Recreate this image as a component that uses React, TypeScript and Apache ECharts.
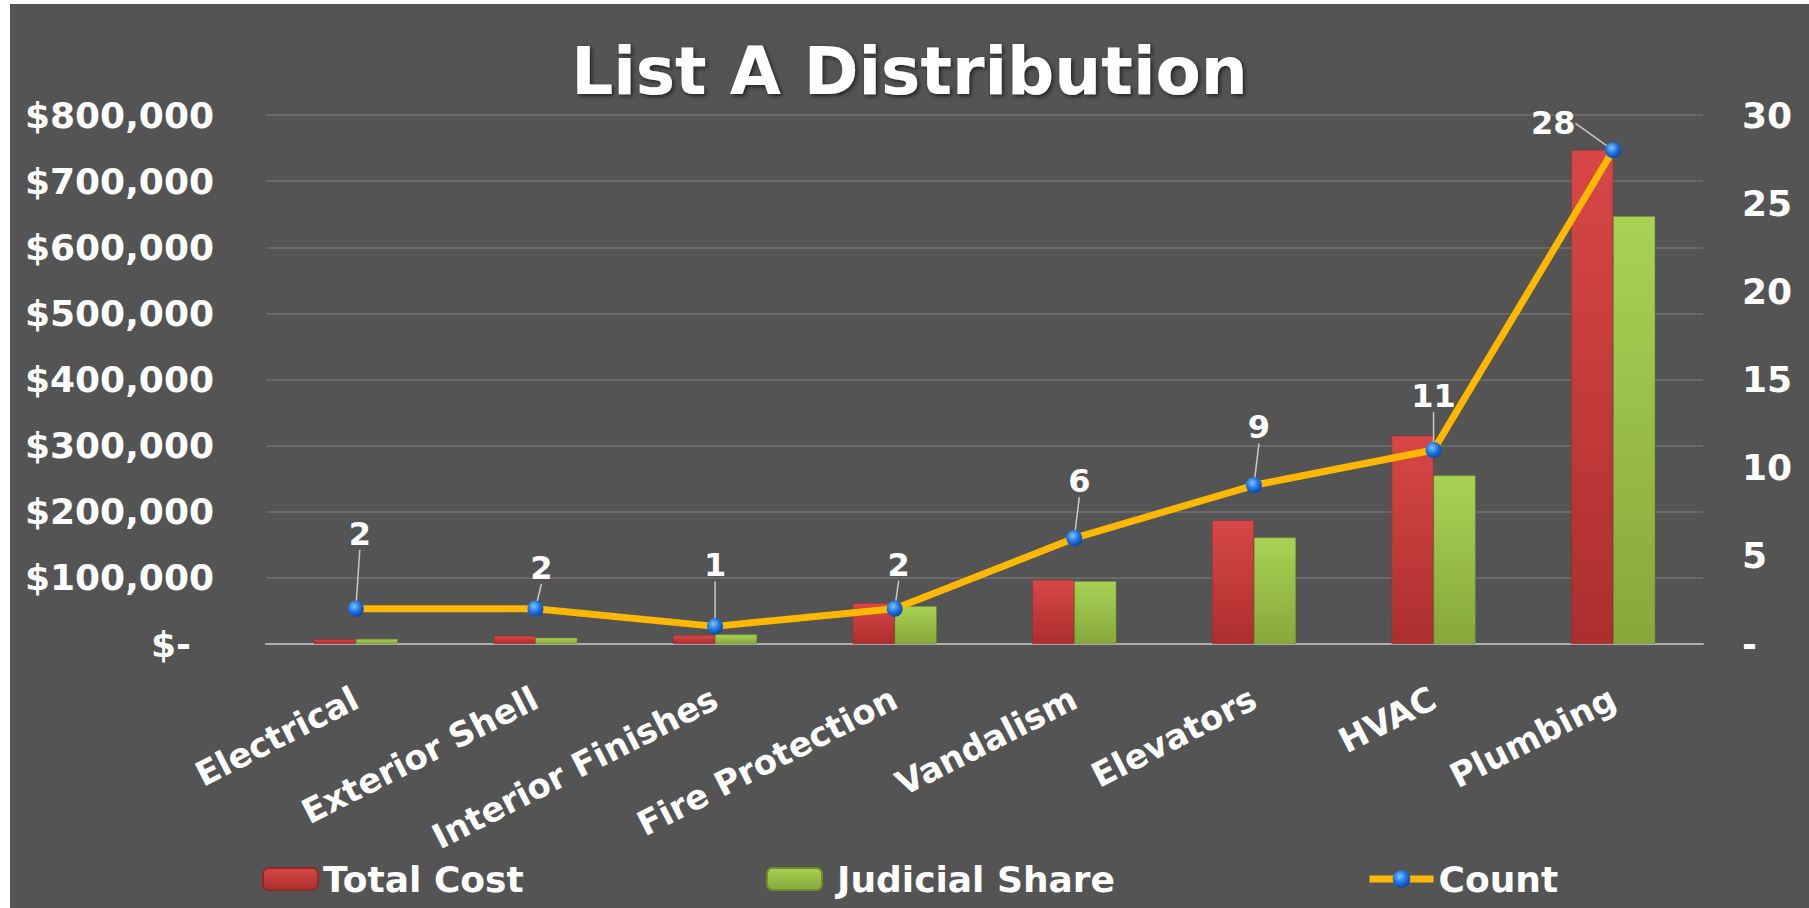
import React, { useEffect, useRef } from "react";
import * as echarts from "echarts";

const categories = [
  "Electrical",
  "Exterior Shell",
  "Interior Finishes",
  "Fire Protection",
  "Vandalism",
  "Elevators",
  "HVAC",
  "Plumbing",
];
const totalCost = [7000, 12500, 13500, 62000, 97000, 187000, 315000, 747000];
const judicialShare = [7500, 9500, 14500, 57000, 95000, 161000, 255000, 647000];
const counts = [2, 2, 1, 2, 6, 9, 11, 28];

// label nudges (style only)
const labelNudge: [number, number][] = [
  [4, -46],
  [6, -12],
  [0, -32],
  [4, -15],
  [5, -28],
  [5, -29],
  [0, -25],
  [-60, 2],
];

const FONT = "'DejaVu Sans', Verdana, sans-serif";

export default function App() {
  const ref = useRef<HTMLDivElement>(null);
  useEffect(() => {
    if (!ref.current) return;
    const chart = echarts.init(ref.current, null, { renderer: "svg" });
    const redGrad = new echarts.graphic.LinearGradient(0, 0, 0, 1, [
      { offset: 0, color: "#D84747" },
      { offset: 1, color: "#AC2E2E" },
    ]);
    const greenGrad = new echarts.graphic.LinearGradient(0, 0, 0, 1, [
      { offset: 0, color: "#A8D254" },
      { offset: 1, color: "#86A83A" },
    ]);
    const dotGrad = new echarts.graphic.RadialGradient(0.4, 0.35, 0.7, [
      { offset: 0, color: "#7FC4FF" },
      { offset: 0.5, color: "#1E78E6" },
      { offset: 1, color: "#0A3E99" },
    ]);
    const legendText = {
      color: "#FFFFFF",
      fontFamily: FONT,
      fontWeight: "bold" as const,
      fontSize: 36,
    };
    chart.setOption({
      animation: false,
      backgroundColor: "#545454",
      title: {
        text: "List A Distribution",
        left: "center",
        top: 29,
        textStyle: {
          color: "#FFFFFF",
          fontFamily: FONT,
          fontWeight: "bold",
          fontSize: 66,
          textShadowColor: "rgba(0,0,0,0.6)",
          textShadowBlur: 4,
          textShadowOffsetX: 2,
          textShadowOffsetY: 2,
        },
      },
      legend: [
        {
          data: ["Total Cost"],
          left: 247,
          top: 852,
          itemWidth: 55,
          itemHeight: 22,
          textStyle: legendText,
        },
        {
          data: ["Judicial Share"],
          left: 751,
          top: 852,
          itemWidth: 55,
          itemHeight: 22,
          textStyle: { ...legendText, padding: [0, 0, 0, 10] },
        },
        {
          data: ["Count"],
          left: 1351,
          top: 852,
          itemWidth: 64,
          itemHeight: 22,
          lineStyle: { width: 7, color: "#FFB800" },
          textStyle: legendText,
        },
      ],
      grid: { left: 256, right: 106, top: 111, bottom: 264 },
      xAxis: {
        type: "category",
        data: categories,
        axisLine: { lineStyle: { color: "#B0B0B0", width: 2 } },
        axisTick: { show: false },
        axisLabel: {
          interval: 0,
          rotate: 27,
          margin: 52,
          color: "#FFFFFF",
          fontFamily: FONT,
          fontWeight: "bold",
          fontSize: 34,
        },
      },
      yAxis: [
        {
          type: "value",
          min: 0,
          max: 800000,
          interval: 100000,
          axisLine: { show: false },
          axisTick: { show: false },
          splitLine: { lineStyle: { color: "#707070", width: 1.5 } },
          axisLabel: {
            margin: 52,
            color: "#FFFFFF",
            fontFamily: FONT,
            fontWeight: "bold",
            fontSize: 36,
            formatter: (v: number) =>
              v === 0 ? "{z|$-}" : "$" + v.toLocaleString("en-US"),
            rich: {
              z: {
                color: "#FFFFFF",
                fontFamily: FONT,
                fontWeight: "bold",
                fontSize: 36,
                padding: [0, 23, 0, 0],
              },
            },
          },
        },
        {
          type: "value",
          min: 0,
          max: 30,
          interval: 5,
          axisLine: { show: false },
          axisTick: { show: false },
          splitLine: { show: false },
          axisLabel: {
            margin: 39,
            color: "#FFFFFF",
            fontFamily: FONT,
            fontWeight: "bold",
            fontSize: 36,
            formatter: (v: number) => (v === 0 ? "-" : String(v)),
          },
        },
      ],
      series: [
        {
          name: "Total Cost",
          type: "bar",
          data: totalCost,
          barWidth: 42,
          barGap: "0%",
          itemStyle: { color: redGrad, borderColor: "#8E2A2A", borderWidth: 0.5 },
        },
        {
          name: "Judicial Share",
          type: "bar",
          data: judicialShare,
          barWidth: 42,
          barGap: "0%",
          itemStyle: { color: greenGrad, borderColor: "#6E8C2E", borderWidth: 0.5 },
        },
        {
          name: "Count",
          type: "line",
          yAxisIndex: 1,
          data: counts,
          symbol: "circle",
          symbolSize: 16,
          lineStyle: { color: "#FFB800", width: 7 },
          itemStyle: { color: dotGrad, borderWidth: 0 },
          label: {
            show: true,
            position: "top",
            color: "#FFFFFF",
            fontFamily: FONT,
            fontWeight: "bold",
            fontSize: 32,
          },
          labelLine: {
            show: true,
            lineStyle: { color: "#C8C8C8", width: 1.5 },
          },
          labelLayout: (p: any) => ({
            dx: labelNudge[p.dataIndex][0],
            dy: labelNudge[p.dataIndex][1],
          }),
          z: 5,
        },
      ],
    });
    return () => chart.dispose();
  }, []);
  return (
    <div
      ref={ref}
      style={{
        position: "fixed",
        left: 10,
        top: 4,
        width: 1799,
        height: 904,
      }}
    />
  );
}
